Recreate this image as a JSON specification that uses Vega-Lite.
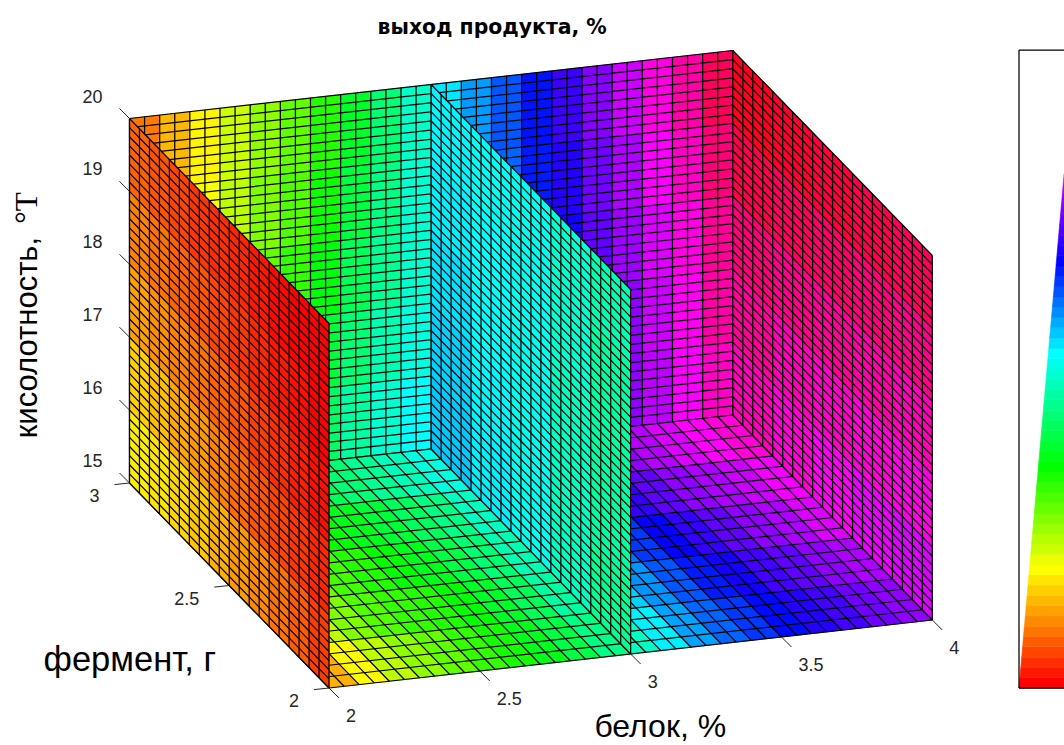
{"$schema":"https://vega.github.io/schema/vega-lite/v6.json","width":1064,"height":745,"padding":0,"autosize":"none","background":"white","view":{"stroke":null},
"datasets":{"faces":[
{"p":"B","u":0,"v":32,"t":0.08},{"p":"B","u":2,"v":32,"t":0.12},{"p":"B","u":4,"v":32,"t":0.16},{"p":"B","u":6,"v":32,"t":0.2},{"p":"B","u":8,"v":32,"t":0.24},{"p":"B","u":10,"v":32,"t":0.27},{"p":"B","u":12,"v":32,"t":0.31},{"p":"B","u":14,"v":32,"t":0.36},{"p":"B","u":16,"v":32,"t":0.41},{"p":"B","u":18,"v":32,"t":0.465},{"p":"B","u":20,"v":32,"t":0.515},{"p":"B","u":22,"v":32,"t":0.565},{"p":"B","u":24,"v":32,"t":0.61},{"p":"B","u":26,"v":32,"t":0.655},{"p":"B","u":28,"v":32,"t":0.705},{"p":"B","u":30,"v":32,"t":0.755},{"p":"B","u":32,"v":32,"t":0.8},{"p":"B","u":34,"v":32,"t":0.85},{"p":"B","u":36,"v":32,"t":0.89},{"p":"B","u":38,"v":32,"t":0.94},
{"p":"B","u":4,"v":24,"t":0.17},{"p":"B","u":6,"v":24,"t":0.21},{"p":"B","u":8,"v":24,"t":0.25},{"p":"B","u":10,"v":24,"t":0.28},{"p":"B","u":12,"v":24,"t":0.325},{"p":"B","u":14,"v":24,"t":0.375},{"p":"B","u":16,"v":24,"t":0.42},{"p":"B","u":18,"v":24,"t":0.47},{"p":"B","u":24,"v":24,"t":0.6},{"p":"B","u":26,"v":24,"t":0.65},{"p":"B","u":28,"v":24,"t":0.69},{"p":"B","u":30,"v":24,"t":0.74},{"p":"B","u":32,"v":24,"t":0.78},{"p":"B","u":34,"v":24,"t":0.83},{"p":"B","u":36,"v":24,"t":0.87},{"p":"B","u":38,"v":24,"t":0.92},
{"p":"B","u":8,"v":16,"t":0.27},{"p":"B","u":10,"v":16,"t":0.3},{"p":"B","u":12,"v":16,"t":0.34},{"p":"B","u":14,"v":16,"t":0.39},{"p":"B","u":16,"v":16,"t":0.43},{"p":"B","u":18,"v":16,"t":0.47},{"p":"B","u":28,"v":16,"t":0.68},{"p":"B","u":30,"v":16,"t":0.73},{"p":"B","u":32,"v":16,"t":0.77},{"p":"B","u":34,"v":16,"t":0.81},{"p":"B","u":36,"v":16,"t":0.85},{"p":"B","u":38,"v":16,"t":0.9},
{"p":"B","u":12,"v":8,"t":0.37},{"p":"B","u":14,"v":8,"t":0.41},{"p":"B","u":16,"v":8,"t":0.45},{"p":"B","u":18,"v":8,"t":0.48},{"p":"B","u":32,"v":8,"t":0.76},{"p":"B","u":34,"v":8,"t":0.8},{"p":"B","u":36,"v":8,"t":0.84},{"p":"B","u":38,"v":8,"t":0.89},
{"p":"B","u":12,"v":0,"t":0.4},{"p":"B","u":14,"v":0,"t":0.44},{"p":"B","u":16,"v":0,"t":0.47},{"p":"B","u":18,"v":0,"t":0.5},{"p":"B","u":32,"v":0,"t":0.76},{"p":"B","u":34,"v":0,"t":0.79},{"p":"B","u":36,"v":0,"t":0.83},{"p":"B","u":38,"v":0,"t":0.87},
{"p":"B","u":0},{"p":"B","u":1},{"p":"B","u":2},{"p":"B","u":3},{"p":"B","u":4},{"p":"B","u":5},{"p":"B","u":6},{"p":"B","u":7},{"p":"B","u":8},{"p":"B","u":9},{"p":"B","u":10},{"p":"B","u":11},{"p":"B","u":12},{"p":"B","u":13},{"p":"B","u":14},{"p":"B","u":15},{"p":"B","u":16},{"p":"B","u":17},{"p":"B","u":18},{"p":"B","u":19},{"p":"B","u":20},{"p":"B","u":21},{"p":"B","u":22},{"p":"B","u":23},{"p":"B","u":24},{"p":"B","u":25},{"p":"B","u":26},{"p":"B","u":27},{"p":"B","u":28},{"p":"B","u":29},{"p":"B","u":30},{"p":"B","u":31},{"p":"B","u":32},{"p":"B","u":33},{"p":"B","u":34},{"p":"B","u":35},{"p":"B","u":36},{"p":"B","u":37},{"p":"B","u":38},{"p":"B","u":39},{"p":"B","u":40},
{"p":"B","v":0},{"p":"B","v":1},{"p":"B","v":2},{"p":"B","v":3},{"p":"B","v":4},{"p":"B","v":5},{"p":"B","v":6},{"p":"B","v":7},{"p":"B","v":8},{"p":"B","v":9},{"p":"B","v":10},{"p":"B","v":11},{"p":"B","v":12},{"p":"B","v":13},{"p":"B","v":14},{"p":"B","v":15},{"p":"B","v":16},{"p":"B","v":17},{"p":"B","v":18},{"p":"B","v":19},{"p":"B","v":20},{"p":"B","v":21},{"p":"B","v":22},{"p":"B","v":23},{"p":"B","v":24},{"p":"B","v":25},{"p":"B","v":26},{"p":"B","v":27},{"p":"B","v":28},{"p":"B","v":29},{"p":"B","v":30},{"p":"B","v":31},{"p":"B","v":32},{"p":"B","v":33},{"p":"B","v":34},{"p":"B","v":35},{"p":"B","v":36},{"p":"B","v":37},{"p":"B","v":38},{"p":"B","v":39},{"p":"B","v":40},
{"p":"F","u":0,"v":0,"t":0.115},{"p":"F","u":2,"v":0,"t":0.165},{"p":"F","u":4,"v":0,"t":0.21},{"p":"F","u":6,"v":0,"t":0.24},{"p":"F","u":8,"v":0,"t":0.27},{"p":"F","u":10,"v":0,"t":0.3},{"p":"F","u":12,"v":0,"t":0.32},{"p":"F","u":14,"v":0,"t":0.35},{"p":"F","u":16,"v":0,"t":0.38},{"p":"F","u":18,"v":0,"t":0.42},{"p":"F","u":20,"v":0,"t":0.46},{"p":"F","u":22,"v":0,"t":0.51},{"p":"F","u":24,"v":0,"t":0.56},{"p":"F","u":26,"v":0,"t":0.6},{"p":"F","u":28,"v":0,"t":0.63},{"p":"F","u":30,"v":0,"t":0.66},{"p":"F","u":32,"v":0,"t":0.69},{"p":"F","u":34,"v":0,"t":0.71},{"p":"F","u":36,"v":0,"t":0.74},{"p":"F","u":38,"v":0,"t":0.76},
{"p":"F","u":0,"v":4,"t":0.16},{"p":"F","u":2,"v":4,"t":0.21},{"p":"F","u":4,"v":4,"t":0.25},{"p":"F","u":6,"v":4,"t":0.28},{"p":"F","u":8,"v":4,"t":0.3},{"p":"F","u":10,"v":4,"t":0.31},{"p":"F","u":12,"v":4,"t":0.33},{"p":"F","u":14,"v":4,"t":0.36},{"p":"F","u":16,"v":4,"t":0.39},{"p":"F","u":18,"v":4,"t":0.44},{"p":"F","u":20,"v":4,"t":0.485},{"p":"F","u":22,"v":4,"t":0.53},{"p":"F","u":24,"v":4,"t":0.57},{"p":"F","u":26,"v":4,"t":0.61},{"p":"F","u":28,"v":4,"t":0.65},{"p":"F","u":30,"v":4,"t":0.68},{"p":"F","u":32,"v":4,"t":0.71},{"p":"F","u":34,"v":4,"t":0.73},{"p":"F","u":36,"v":4,"t":0.76},{"p":"F","u":38,"v":4,"t":0.78},
{"p":"F","u":0,"v":8,"t":0.2},{"p":"F","u":2,"v":8,"t":0.23},{"p":"F","u":4,"v":8,"t":0.26},{"p":"F","u":6,"v":8,"t":0.29},{"p":"F","u":8,"v":8,"t":0.31},{"p":"F","u":10,"v":8,"t":0.33},{"p":"F","u":12,"v":8,"t":0.35},{"p":"F","u":14,"v":8,"t":0.38},{"p":"F","u":16,"v":8,"t":0.41},{"p":"F","u":18,"v":8,"t":0.45},{"p":"F","u":20,"v":8,"t":0.495},{"p":"F","u":22,"v":8,"t":0.545},{"p":"F","u":24,"v":8,"t":0.59},{"p":"F","u":26,"v":8,"t":0.63},{"p":"F","u":28,"v":8,"t":0.67},{"p":"F","u":30,"v":8,"t":0.7},{"p":"F","u":32,"v":8,"t":0.73},{"p":"F","u":34,"v":8,"t":0.76},{"p":"F","u":36,"v":8,"t":0.78},{"p":"F","u":38,"v":8,"t":0.81},
{"p":"F","u":0,"v":12,"t":0.23},{"p":"F","u":2,"v":12,"t":0.26},{"p":"F","u":4,"v":12,"t":0.29},{"p":"F","u":6,"v":12,"t":0.31},{"p":"F","u":8,"v":12,"t":0.33},{"p":"F","u":10,"v":12,"t":0.35},{"p":"F","u":12,"v":12,"t":0.37},{"p":"F","u":14,"v":12,"t":0.395},{"p":"F","u":16,"v":12,"t":0.42},{"p":"F","u":18,"v":12,"t":0.46},{"p":"F","u":20,"v":12,"t":0.51},{"p":"F","u":22,"v":12,"t":0.565},{"p":"F","u":24,"v":12,"t":0.62},{"p":"F","u":26,"v":12,"t":0.66},{"p":"F","u":28,"v":12,"t":0.7},{"p":"F","u":30,"v":12,"t":0.73},{"p":"F","u":32,"v":12,"t":0.76},{"p":"F","u":34,"v":12,"t":0.78},{"p":"F","u":36,"v":12,"t":0.8},{"p":"F","u":38,"v":12,"t":0.825},
{"p":"F","u":0,"v":16,"t":0.25},{"p":"F","u":2,"v":16,"t":0.28},{"p":"F","u":4,"v":16,"t":0.3},{"p":"F","u":6,"v":16,"t":0.33},{"p":"F","u":8,"v":16,"t":0.36},{"p":"F","u":10,"v":16,"t":0.39},{"p":"F","u":12,"v":16,"t":0.41},{"p":"F","u":14,"v":16,"t":0.43},{"p":"F","u":16,"v":16,"t":0.455},{"p":"F","u":18,"v":16,"t":0.48},{"p":"F","u":20,"v":16,"t":0.53},{"p":"F","u":22,"v":16,"t":0.585},{"p":"F","u":24,"v":16,"t":0.635},{"p":"F","u":26,"v":16,"t":0.68},{"p":"F","u":28,"v":16,"t":0.725},{"p":"F","u":30,"v":16,"t":0.76},{"p":"F","u":32,"v":16,"t":0.785},{"p":"F","u":34,"v":16,"t":0.81},{"p":"F","u":36,"v":16,"t":0.835},{"p":"F","u":38,"v":16,"t":0.86},
{"p":"F","u":0},{"p":"F","u":1},{"p":"F","u":2},{"p":"F","u":3},{"p":"F","u":4},{"p":"F","u":5},{"p":"F","u":6},{"p":"F","u":7},{"p":"F","u":8},{"p":"F","u":9},{"p":"F","u":10},{"p":"F","u":11},{"p":"F","u":12},{"p":"F","u":13},{"p":"F","u":14},{"p":"F","u":15},{"p":"F","u":16},{"p":"F","u":17},{"p":"F","u":18},{"p":"F","u":19},{"p":"F","u":20},{"p":"F","u":21},{"p":"F","u":22},{"p":"F","u":23},{"p":"F","u":24},{"p":"F","u":25},{"p":"F","u":26},{"p":"F","u":27},{"p":"F","u":28},{"p":"F","u":29},{"p":"F","u":30},{"p":"F","u":31},{"p":"F","u":32},{"p":"F","u":33},{"p":"F","u":34},{"p":"F","u":35},{"p":"F","u":36},{"p":"F","u":37},{"p":"F","u":38},{"p":"F","u":39},{"p":"F","u":40},
{"p":"F","v":0},{"p":"F","v":1},{"p":"F","v":2},{"p":"F","v":3},{"p":"F","v":4},{"p":"F","v":5},{"p":"F","v":6},{"p":"F","v":7},{"p":"F","v":8},{"p":"F","v":9},{"p":"F","v":10},{"p":"F","v":11},{"p":"F","v":12},{"p":"F","v":13},{"p":"F","v":14},{"p":"F","v":15},{"p":"F","v":16},{"p":"F","v":17},{"p":"F","v":18},{"p":"F","v":19},{"p":"F","v":20},
{"p":"R","u":0,"v":0,"t":0.81},{"p":"R","u":0,"v":8,"t":0.85},{"p":"R","u":0,"v":16,"t":0.88},{"p":"R","u":0,"v":24,"t":0.91},{"p":"R","u":0,"v":32,"t":0.94},{"p":"R","u":4,"v":0,"t":0.82},{"p":"R","u":4,"v":8,"t":0.86},{"p":"R","u":4,"v":16,"t":0.89},{"p":"R","u":4,"v":24,"t":0.92},{"p":"R","u":4,"v":32,"t":0.95},{"p":"R","u":8,"v":0,"t":0.84},{"p":"R","u":8,"v":8,"t":0.87},{"p":"R","u":8,"v":16,"t":0.9},{"p":"R","u":8,"v":24,"t":0.93},{"p":"R","u":8,"v":32,"t":0.96},{"p":"R","u":12,"v":0,"t":0.86},{"p":"R","u":12,"v":8,"t":0.88},{"p":"R","u":12,"v":16,"t":0.91},{"p":"R","u":12,"v":24,"t":0.94},{"p":"R","u":12,"v":32,"t":0.97},{"p":"R","u":16,"v":0,"t":0.88},{"p":"R","u":16,"v":8,"t":0.9},{"p":"R","u":16,"v":16,"t":0.92},{"p":"R","u":16,"v":24,"t":0.95},{"p":"R","u":16,"v":32,"t":0.98},
{"p":"R","u":0},{"p":"R","u":1},{"p":"R","u":2},{"p":"R","u":3},{"p":"R","u":4},{"p":"R","u":5},{"p":"R","u":6},{"p":"R","u":7},{"p":"R","u":8},{"p":"R","u":9},{"p":"R","u":10},{"p":"R","u":11},{"p":"R","u":12},{"p":"R","u":13},{"p":"R","u":14},{"p":"R","u":15},{"p":"R","u":16},{"p":"R","u":17},{"p":"R","u":18},{"p":"R","u":19},{"p":"R","u":20},
{"p":"R","v":0},{"p":"R","v":1},{"p":"R","v":2},{"p":"R","v":3},{"p":"R","v":4},{"p":"R","v":5},{"p":"R","v":6},{"p":"R","v":7},{"p":"R","v":8},{"p":"R","v":9},{"p":"R","v":10},{"p":"R","v":11},{"p":"R","v":12},{"p":"R","v":13},{"p":"R","v":14},{"p":"R","v":15},{"p":"R","v":16},{"p":"R","v":17},{"p":"R","v":18},{"p":"R","v":19},{"p":"R","v":20},{"p":"R","v":21},{"p":"R","v":22},{"p":"R","v":23},{"p":"R","v":24},{"p":"R","v":25},{"p":"R","v":26},{"p":"R","v":27},{"p":"R","v":28},{"p":"R","v":29},{"p":"R","v":30},{"p":"R","v":31},{"p":"R","v":32},{"p":"R","v":33},{"p":"R","v":34},{"p":"R","v":35},{"p":"R","v":36},{"p":"R","v":37},{"p":"R","v":38},{"p":"R","v":39},{"p":"R","v":40},
{"p":"M","u":0,"v":0,"t":0.43},{"p":"M","u":0,"v":8,"t":0.44},{"p":"M","u":0,"v":16,"t":0.44},{"p":"M","u":0,"v":24,"t":0.44},{"p":"M","u":0,"v":32,"t":0.45},{"p":"M","u":4,"v":0,"t":0.46},{"p":"M","u":4,"v":8,"t":0.46},{"p":"M","u":4,"v":16,"t":0.46},{"p":"M","u":4,"v":24,"t":0.47},{"p":"M","u":4,"v":32,"t":0.47},{"p":"M","u":8,"v":0,"t":0.49},{"p":"M","u":8,"v":8,"t":0.49},{"p":"M","u":8,"v":16,"t":0.49},{"p":"M","u":8,"v":24,"t":0.49},{"p":"M","u":8,"v":32,"t":0.49},{"p":"M","u":12,"v":0,"t":0.51},{"p":"M","u":12,"v":8,"t":0.505},{"p":"M","u":12,"v":16,"t":0.5},{"p":"M","u":12,"v":24,"t":0.5},{"p":"M","u":12,"v":32,"t":0.495},{"p":"M","u":16,"v":0,"t":0.535},{"p":"M","u":16,"v":8,"t":0.53},{"p":"M","u":16,"v":16,"t":0.52},{"p":"M","u":16,"v":24,"t":0.51},{"p":"M","u":16,"v":32,"t":0.505},
{"p":"M","u":0},{"p":"M","u":1},{"p":"M","u":2},{"p":"M","u":3},{"p":"M","u":4},{"p":"M","u":5},{"p":"M","u":6},{"p":"M","u":7},{"p":"M","u":8},{"p":"M","u":9},{"p":"M","u":10},{"p":"M","u":11},{"p":"M","u":12},{"p":"M","u":13},{"p":"M","u":14},{"p":"M","u":15},{"p":"M","u":16},{"p":"M","u":17},{"p":"M","u":18},{"p":"M","u":19},{"p":"M","u":20},
{"p":"M","v":0},{"p":"M","v":1},{"p":"M","v":2},{"p":"M","v":3},{"p":"M","v":4},{"p":"M","v":5},{"p":"M","v":6},{"p":"M","v":7},{"p":"M","v":8},{"p":"M","v":9},{"p":"M","v":10},{"p":"M","v":11},{"p":"M","v":12},{"p":"M","v":13},{"p":"M","v":14},{"p":"M","v":15},{"p":"M","v":16},{"p":"M","v":17},{"p":"M","v":18},{"p":"M","v":19},{"p":"M","v":20},{"p":"M","v":21},{"p":"M","v":22},{"p":"M","v":23},{"p":"M","v":24},{"p":"M","v":25},{"p":"M","v":26},{"p":"M","v":27},{"p":"M","v":28},{"p":"M","v":29},{"p":"M","v":30},{"p":"M","v":31},{"p":"M","v":32},{"p":"M","v":33},{"p":"M","v":34},{"p":"M","v":35},{"p":"M","v":36},{"p":"M","v":37},{"p":"M","v":38},{"p":"M","v":39},{"p":"M","v":40},
{"p":"L","u":0,"v":0,"t":0.04},{"p":"L","u":2,"v":0,"t":0.06},{"p":"L","u":4,"v":0,"t":0.075},{"p":"L","u":6,"v":0,"t":0.09},{"p":"L","u":8,"v":0,"t":0.1},{"p":"L","u":10,"v":0,"t":0.115},{"p":"L","u":12,"v":0,"t":0.13},{"p":"L","u":14,"v":0,"t":0.14},{"p":"L","u":16,"v":0,"t":0.15},{"p":"L","u":18,"v":0,"t":0.155},
{"p":"L","u":0,"v":8,"t":0.025},{"p":"L","u":2,"v":8,"t":0.035},{"p":"L","u":4,"v":8,"t":0.045},{"p":"L","u":6,"v":8,"t":0.055},{"p":"L","u":8,"v":8,"t":0.07},{"p":"L","u":10,"v":8,"t":0.085},{"p":"L","u":12,"v":8,"t":0.1},{"p":"L","u":14,"v":8,"t":0.11},{"p":"L","u":16,"v":8,"t":0.125},{"p":"L","u":18,"v":8,"t":0.135},
{"p":"L","u":0,"v":16,"t":0.01},{"p":"L","u":2,"v":16,"t":0.02},{"p":"L","u":4,"v":16,"t":0.03},{"p":"L","u":6,"v":16,"t":0.04},{"p":"L","u":8,"v":16,"t":0.055},{"p":"L","u":10,"v":16,"t":0.065},{"p":"L","u":12,"v":16,"t":0.075},{"p":"L","u":14,"v":16,"t":0.085},{"p":"L","u":16,"v":16,"t":0.095},{"p":"L","u":18,"v":16,"t":0.105},
{"p":"L","u":0,"v":24,"t":0},{"p":"L","u":2,"v":24,"t":0.01},{"p":"L","u":4,"v":24,"t":0.015},{"p":"L","u":6,"v":24,"t":0.025},{"p":"L","u":8,"v":24,"t":0.035},{"p":"L","u":10,"v":24,"t":0.045},{"p":"L","u":12,"v":24,"t":0.055},{"p":"L","u":14,"v":24,"t":0.065},{"p":"L","u":16,"v":24,"t":0.075},{"p":"L","u":18,"v":24,"t":0.085},
{"p":"L","u":0,"v":32,"t":0},{"p":"L","u":2,"v":32,"t":0},{"p":"L","u":4,"v":32,"t":0.005},{"p":"L","u":6,"v":32,"t":0.015},{"p":"L","u":8,"v":32,"t":0.025},{"p":"L","u":10,"v":32,"t":0.03},{"p":"L","u":12,"v":32,"t":0.035},{"p":"L","u":14,"v":32,"t":0.045},{"p":"L","u":16,"v":32,"t":0.055},{"p":"L","u":18,"v":32,"t":0.065},
{"p":"L","u":0},{"p":"L","u":1},{"p":"L","u":2},{"p":"L","u":3},{"p":"L","u":4},{"p":"L","u":5},{"p":"L","u":6},{"p":"L","u":7},{"p":"L","u":8},{"p":"L","u":9},{"p":"L","u":10},{"p":"L","u":11},{"p":"L","u":12},{"p":"L","u":13},{"p":"L","u":14},{"p":"L","u":15},{"p":"L","u":16},{"p":"L","u":17},{"p":"L","u":18},{"p":"L","u":19},{"p":"L","u":20},
{"p":"L","v":0},{"p":"L","v":1},{"p":"L","v":2},{"p":"L","v":3},{"p":"L","v":4},{"p":"L","v":5},{"p":"L","v":6},{"p":"L","v":7},{"p":"L","v":8},{"p":"L","v":9},{"p":"L","v":10},{"p":"L","v":11},{"p":"L","v":12},{"p":"L","v":13},{"p":"L","v":14},{"p":"L","v":15},{"p":"L","v":16},{"p":"L","v":17},{"p":"L","v":18},{"p":"L","v":19},{"p":"L","v":20},{"p":"L","v":21},{"p":"L","v":22},{"p":"L","v":23},{"p":"L","v":24},{"p":"L","v":25},{"p":"L","v":26},{"p":"L","v":27},{"p":"L","v":28},{"p":"L","v":29},{"p":"L","v":30},{"p":"L","v":31},{"p":"L","v":32},{"p":"L","v":33},{"p":"L","v":34},{"p":"L","v":35},{"p":"L","v":36},{"p":"L","v":37},{"p":"L","v":38},{"p":"L","v":39},{"p":"L","v":40},
{"p":"C","u":0,"v":0,"t":0},{"p":"C","u":0,"v":1,"t":0.015},{"p":"C","u":0,"v":2,"t":0.03},{"p":"C","u":0,"v":3,"t":0.045},{"p":"C","u":0,"v":4,"t":0.06},{"p":"C","u":0,"v":5,"t":0.075},{"p":"C","u":0,"v":6,"t":0.09},{"p":"C","u":0,"v":7,"t":0.105},{"p":"C","u":0,"v":8,"t":0.12},{"p":"C","u":0,"v":9,"t":0.135},{"p":"C","u":0,"v":10,"t":0.15},{"p":"C","u":0,"v":11,"t":0.167},{"p":"C","u":0,"v":12,"t":0.18},{"p":"C","u":0,"v":13,"t":0.2},{"p":"C","u":0,"v":14,"t":0.215},{"p":"C","u":0,"v":15,"t":0.233},{"p":"C","u":0,"v":16,"t":0.25},{"p":"C","u":0,"v":17,"t":0.267},{"p":"C","u":0,"v":18,"t":0.283},{"p":"C","u":0,"v":19,"t":0.3},{"p":"C","u":0,"v":20,"t":0.317},{"p":"C","u":0,"v":21,"t":0.333},{"p":"C","u":0,"v":22,"t":0.348},{"p":"C","u":0,"v":23,"t":0.364},{"p":"C","u":0,"v":24,"t":0.379},{"p":"C","u":0,"v":25,"t":0.394},{"p":"C","u":0,"v":26,"t":0.41},{"p":"C","u":0,"v":27,"t":0.425},{"p":"C","u":0,"v":28,"t":0.44},{"p":"C","u":0,"v":29,"t":0.455},{"p":"C","u":0,"v":30,"t":0.47},{"p":"C","u":0,"v":31,"t":0.485},{"p":"C","u":0,"v":32,"t":0.5},{"p":"C","u":0,"v":33,"t":0.518},{"p":"C","u":0,"v":34,"t":0.537},{"p":"C","u":0,"v":35,"t":0.555},{"p":"C","u":0,"v":36,"t":0.574},{"p":"C","u":0,"v":37,"t":0.592},{"p":"C","u":0,"v":38,"t":0.611},{"p":"C","u":0,"v":39,"t":0.63},{"p":"C","u":0,"v":40,"t":0.648},{"p":"C","u":0,"v":41,"t":0.667},{"p":"C","u":0,"v":42,"t":0.683},{"p":"C","u":0,"v":43,"t":0.699},{"p":"C","u":0,"v":44,"t":0.715},{"p":"C","u":0,"v":45,"t":0.731},{"p":"C","u":0,"v":46,"t":0.747},{"p":"C","u":0,"v":47,"t":0.763},{"p":"C","u":0,"v":48,"t":0.779},{"p":"C","u":0,"v":49,"t":0.795},
{"p":"O","u":0},{"p":"O","v":0},{"p":"O","v":1}
],
"labels":[
{"a":"z","b":2,"f":3,"k":15,"l":"15"},{"a":"z","b":2,"f":3,"k":16,"l":"16"},{"a":"z","b":2,"f":3,"k":17,"l":"17"},{"a":"z","b":2,"f":3,"k":18,"l":"18"},{"a":"z","b":2,"f":3,"k":19,"l":"19"},{"a":"z","b":2,"f":3,"k":20,"l":"20"},
{"a":"y","b":2,"f":2,"k":15,"l":"2"},{"a":"y","b":2,"f":2.5,"k":15,"l":"2.5"},{"a":"y","b":2,"f":3,"k":15,"l":"3"},
{"a":"x","b":2,"f":2,"k":15,"l":"2"},{"a":"x","b":2.5,"f":2,"k":15,"l":"2.5"},{"a":"x","b":3,"f":2,"k":15,"l":"3"},{"a":"x","b":3.5,"f":2,"k":15,"l":"3.5"},{"a":"x","b":4,"f":2,"k":15,"l":"4"},
{"a":"T","b":3,"f":3,"k":20,"l":"выход продукта, %"},{"a":"X","b":3,"f":2,"k":15,"l":"белок, %"},{"a":"Y","b":2,"f":2.5,"k":15,"l":"фермент, г"},{"a":"Z","b":2,"f":3,"k":17.5,"l":"кисолотность,"},{"a":"U","b":2,"f":3,"k":17.5,"l":"°T"}
]},
"encoding":{"x":{"field":"px","type":"quantitative","scale":{"domain":[0,1064],"range":[0,1064],"nice":false,"zero":false},"axis":null},"y":{"field":"py","type":"quantitative","scale":{"domain":[0,745],"range":[0,745],"nice":false,"zero":false},"axis":null}},
"layer":[
{"data":{"name":"faces"},
"transform":[
{"calculate":"isValid(datum.t)?[0,1,2,3,4]:[0,1]","as":"k"},{"flatten":["k"]},
{"calculate":"datum.p=='F'||datum.p=='B'||datum.p=='L'?2:datum.p=='C'?1:4","as":"su"},
{"calculate":"datum.p=='F'?4:datum.p=='C'?1:8","as":"sv"},
{"calculate":"datum.p=='F'||datum.p=='B'?40:datum.p=='C'||datum.p=='O'?1:20","as":"nu"},
{"calculate":"datum.p=='F'?20:datum.p=='C'?62:datum.p=='O'?1:40","as":"nv"},
{"calculate":"isValid(datum.t)?(datum.u+datum.su*(datum.k==1||datum.k==2?1:0))/datum.nu:isValid(datum.u)?datum.u/datum.nu:datum.k","as":"U"},
{"calculate":"isValid(datum.t)?(datum.v+datum.sv*(datum.k==2||datum.k==3?1:0))/datum.nv:isValid(datum.v)?datum.v/datum.nv:datum.k","as":"V"},
{"calculate":"datum.p=='B'||datum.p=='F'?datum.U:datum.p=='L'?0:datum.p=='M'?0.5:1","as":"X"},
{"calculate":"datum.p=='B'?1:datum.p=='F'?datum.V:datum.U","as":"Y"},
{"calculate":"datum.p=='F'?0:datum.V","as":"Z"},
{"calculate":"1019+45*datum.V*638/513","as":"wl"},
{"calculate":"datum.p=='C'?datum.wl+datum.U*(1075-datum.wl):datum.p=='O'?1019+datum.U*56:329+603.3*datum.X-199.5*datum.Y","as":"px"},
{"calculate":"datum.p=='C'||datum.p=='O'?688-638*datum.V:688-68*datum.X-205*datum.Y-364.5*datum.Z","as":"py"},
{"calculate":"isValid(datum.t)?datum.t:0","as":"tv"},
{"calculate":"datum.p+'_'+datum.u+'_'+datum.v","as":"id"}
],
"mark":{"type":"line","interpolate":"linear-closed","strokeCap":"butt","strokeJoin":"miter","clip":false},
"encoding":{"detail":{"field":"id"},"order":{"field":"k","type":"quantitative"},
"fill":{"condition":{"test":"!isValid(datum.t)","value":"transparent"},"field":"tv","type":"quantitative","scale":{"domain":[0,0.1667,0.3333,0.5,0.6667,0.8333,1],"range":["#ff0000","#ffff00","#00ff00","#00ffff","#0000ff","#ff00ff","#ff0000"],"interpolate":"rgb"},"legend":null},
"stroke":{"condition":{"test":"!isValid(datum.t)","value":"#000000"},"field":"tv","type":"quantitative","scale":{"domain":[0,0.1667,0.3333,0.5,0.6667,0.8333,1],"range":["#ff0000","#ffff00","#00ff00","#00ffff","#0000ff","#ff00ff","#ff0000"],"interpolate":"rgb"},"legend":null},
"strokeWidth":{"condition":{"test":"!isValid(datum.t)","value":1.25},"value":0.6}}},
{"data":{"name":"labels"},
"transform":[
{"calculate":"329+603.3*(datum.b-2)/2-199.5*(datum.f-2)","as":"px"},
{"calculate":"688-68*(datum.b-2)/2-205*(datum.f-2)-364.5*(datum.k-15)/5","as":"py"},
{"calculate":"datum.a=='z'?-10:datum.a=='y'?-15:10","as":"ox"},
{"calculate":"datum.a=='z'?-10:datum.a=='y'?1.6:10","as":"oy"},
{"calculate":"datum.px+datum.ox","as":"ex"},
{"calculate":"datum.py+datum.oy","as":"ey"}
],
"layer":[
{"transform":[{"filter":"datum.a=='x'||datum.a=='y'||datum.a=='z'"}],"mark":{"type":"rule","color":"#262626","strokeWidth":1},"encoding":{"x2":{"field":"ex"},"y2":{"field":"ey"}}},
{"transform":[{"filter":"datum.a=='z'"}],"mark":{"type":"text","font":"Liberation Sans","fontSize":18,"color":"#262626","align":"right","baseline":"middle","dx":-27,"dy":-21},"encoding":{"text":{"field":"l"}}},
{"transform":[{"filter":"datum.a=='y'"}],"mark":{"type":"text","font":"Liberation Sans","fontSize":18,"color":"#262626","align":"right","baseline":"middle","dx":-30,"dy":14},"encoding":{"text":{"field":"l"}}},
{"transform":[{"filter":"datum.a=='x'"}],"mark":{"type":"text","font":"Liberation Sans","fontSize":18,"color":"#262626","align":"left","baseline":"middle","dx":17,"dy":29},"encoding":{"text":{"field":"l"}}},
{"transform":[{"filter":"datum.a=='T'"}],"mark":{"type":"text","font":"DejaVu Sans","fontSize":20.4,"fontWeight":"bold","color":"#000000","align":"center","baseline":"middle","dx":61,"dy":-56.5},"encoding":{"text":{"field":"l"}}},
{"transform":[{"filter":"datum.a=='X'"}],"mark":{"type":"text","font":"Liberation Sans","fontSize":32,"color":"#000000","align":"center","baseline":"middle","dx":29.6,"dy":73},"encoding":{"text":{"field":"l"}}},
{"transform":[{"filter":"datum.a=='Y'"}],"mark":{"type":"text","font":"Liberation Sans","fontSize":34.5,"color":"#000000","align":"center","baseline":"middle","dx":-99.5,"dy":75.5},"encoding":{"text":{"field":"l"}}},
{"transform":[{"filter":"datum.a=='Z'"}],"mark":{"type":"text","font":"Liberation Sans","fontSize":31,"color":"#000000","align":"center","baseline":"alphabetic","angle":270,"dx":-36.8,"dy":-92.5},"encoding":{"text":{"field":"l"}}},
{"transform":[{"filter":"datum.a=='U'"}],"mark":{"type":"text","font":"Liberation Serif","fontSize":31,"color":"#000000","align":"center","baseline":"alphabetic","angle":270,"dx":92.7,"dy":-92.5},"encoding":{"text":{"field":"l"}}}
]}
]}
